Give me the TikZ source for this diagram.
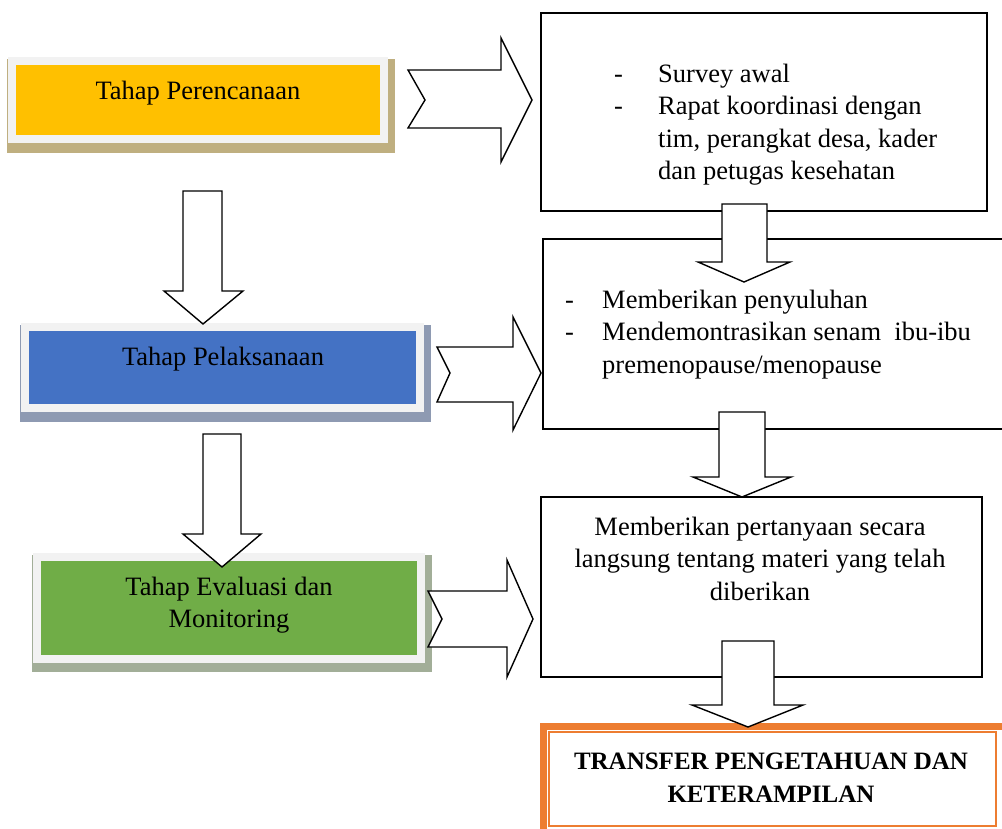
\documentclass[tikz,border=0pt]{standalone}
\usepackage{fontspec}
\setmainfont{Liberation Serif}
\usetikzlibrary{calc,backgrounds}
\definecolor{yel}{HTML}{FFC000}
\definecolor{blu}{HTML}{4472C4}
\definecolor{grn}{HTML}{70AD47}
\definecolor{org}{HTML}{ED7D31}
\definecolor{frm}{HTML}{F2F2F2}
\definecolor{shy}{HTML}{BFAF80}
\definecolor{shb}{HTML}{8E9AB2}
\definecolor{shg}{HTML}{A2AE98}
\newcommand{\fl}{\rule{0pt}{20pt}}
\tikzset{
  phasebox/.style={draw=frm, line width=8pt, inner sep=0pt},
  rbox/.style={draw=black, line width=1.6pt, inner sep=0pt, fill=white},
  txt/.style={font=\fontsize{26.5}{32.5}\selectfont, inner sep=0pt},
  btxt/.style={font=\fontsize{25}{33}\selectfont\bfseries, inner sep=0pt},
  blockarrow/.style={draw=black, fill=white, line width=1.4pt, line join=miter},
}
\begin{document}
\begin{tikzpicture}[x=1pt,y=-1pt]
\useasboundingbox (0,0) rectangle (1002,829);

% phase boxes (left)
\node[phasebox, fill=yel, minimum width=372pt, minimum height=78pt] (p1) at (198,100) {};
\node[phasebox, fill=blu, minimum width=395pt, minimum height=81pt] (p2) at (222.5,367.5) {};
\node[phasebox, fill=grn, minimum width=384pt, minimum height=102pt] (p3) at (229,608) {};
\begin{scope}[on background layer]
  \fill[shy] ([shift={(-1,2)}]p1.north west) rectangle ([shift={(7,10)}]p1.south east);
  \fill[shb] ([shift={(-1,2)}]p2.north west) rectangle ([shift={(7,10)}]p2.south east);
  \fill[shg] ([shift={(-1,2)}]p3.north west) rectangle ([shift={(7,9)}]p3.south east);
\end{scope}

% right boxes
\node[rbox, minimum width=446pt, minimum height=198pt] (b1) at (764,112) {};
\node[rbox, minimum width=470pt, minimum height=190pt] (b2) at (778,334) {};
\node[rbox, minimum width=441pt, minimum height=180pt] (b3) at (761.5,587) {};

% result box
\node[draw=org, line width=7pt, inner sep=0pt, anchor=north west,
      minimum width=480pt, minimum height=130pt] (res) at (539.5,722.5) {};
\node[draw=org, line width=1.8pt, inner sep=0pt, anchor=north west,
      minimum width=447pt, minimum height=94pt] (resin) at (548,731) {};

% block arrows: phase -> detail (right pointing, notched)
\draw[blockarrow] (408,70) -- (501,70) -- (501,38) -- (532,100) -- (501,162) -- (501,128) -- (408,128) -- (425,100) -- cycle;
\draw[blockarrow] (437,347) -- (513,347) -- (513,317) -- (541,373) -- (513,430) -- (513,402) -- (437,402) -- (450,373) -- cycle;
\draw[blockarrow] (428,591) -- (507,591) -- (507,560) -- (533,619) -- (507,677) -- (507,647) -- (428,647) -- (442,619) -- cycle;

% block arrows: down
\draw[blockarrow] (183,191) -- (222,191) -- (222,291) -- (243,291) -- (203,324) -- (164,291) -- (183,291) -- cycle;
\draw[blockarrow] (203,434) -- (241,434) -- (241,534) -- (261,534) -- (222,567) -- (183,534) -- (203,534) -- cycle;
\draw[blockarrow] (722,204) -- (767,204) -- (767,262) -- (790,262) -- (744,282) -- (698,262) -- (722,262) -- cycle;
\draw[blockarrow] (719,412) -- (765,412) -- (765,477) -- (791,477) -- (742,497) -- (693,477) -- (719,477) -- cycle;
\draw[blockarrow] (722,641) -- (774,641) -- (774,705) -- (803,705) -- (748,727) -- (692,705) -- (722,705) -- cycle;

% texts
\node[txt, anchor=base] (t1) at (198,100) {Tahap Perencanaan};
\node[txt, anchor=base] (t2) at (223,365) {Tahap Pelaksanaan};
\node[txt, anchor=north, align=center] (t3) at (229,575) {\fl Tahap Evaluasi dan\\Monitoring};

\node[txt, anchor=north west, align=left] (d1) at (614,62)
  {\fl\makebox[44pt][l]{-}Survey awal\\
   \makebox[44pt][l]{-}Rapat koordinasi dengan\\
   \hspace*{44pt}tim, perangkat desa, kader\\
   \hspace*{44pt}dan petugas kesehatan};
\node[txt, anchor=north west, align=left] (d2) at (565,288)
  {\fl\makebox[37pt][l]{-}Memberikan penyuluhan\\
   \makebox[37pt][l]{-}Mendemontrasikan senam\ \ ibu-ibu\\
   \hspace*{37pt}premenopause/menopause};
\node[txt, anchor=north, align=center] (d3) at (760,515)
  {\fl Memberikan pertanyaan secara\\langsung tentang materi yang telah\\diberikan};
\node[btxt, anchor=north, align=center] (rt) at (771,749)
  {\fl TRANSFER PENGETAHUAN DAN\\KETERAMPILAN};
\end{tikzpicture}
\end{document}
